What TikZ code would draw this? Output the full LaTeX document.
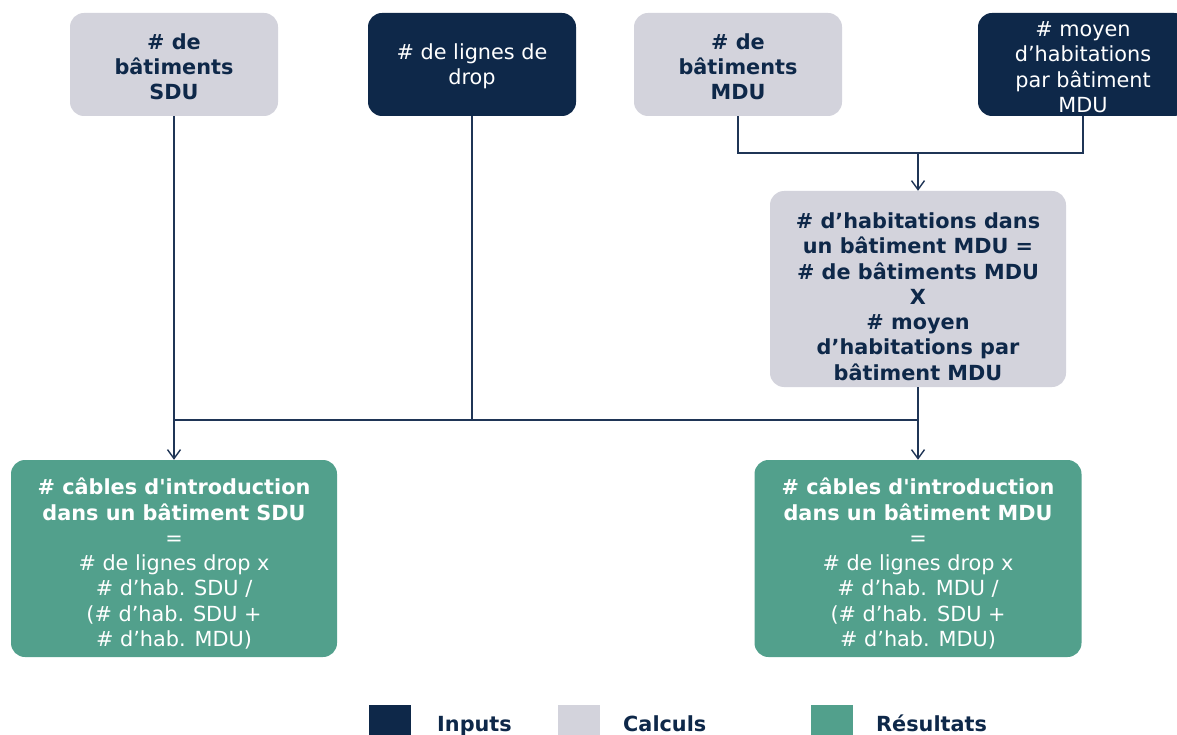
\documentclass[tikz,border=0pt]{standalone}
\usepackage{fontspec}
\setmainfont[Ligatures=TeXOff]{DejaVu Sans}
\usetikzlibrary{arrows.meta}
\definecolor{navy}{HTML}{0E2849}
\definecolor{lgrey}{HTML}{D3D3DC}
\definecolor{teal}{HTML}{52A08C}
\definecolor{linec}{HTML}{1F3556}
\newcommand{\topgap}[1]{\rule{0pt}{#1}}
\tikzset{
  box/.style={rounded corners=14pt, align=center, inner sep=0pt, font=\fontsize{20.8}{25.3}\selectfont},
  inbox/.style={box, fill=navy, text=white},
  calcbox/.style={box, fill=lgrey, text=navy, font=\fontsize{20.8}{25.3}\selectfont\bfseries},
  resbox/.style={box, fill=teal, text=white},
  conn/.style={draw=linec, line width=1.6pt},
  arr/.style={conn, -{Straight Barb[length=9pt,width=13pt,line width=1.4pt]}},
  legsq/.style={inner sep=0pt, minimum width=42pt, minimum height=42pt},
  leglab/.style={text=navy, font=\fontsize{20.8}{25}\selectfont\bfseries, anchor=base west, inner sep=0pt}
}
\begin{document}
\begin{tikzpicture}[x=1pt,y=-1pt]
\useasboundingbox (0,0) rectangle (1177,735);
% top row
\node[calcbox, minimum width=208pt, minimum height=103pt] (A) at (174,64.5) {\topgap{20pt}\# de\\bâtiments\\SDU};
\node[inbox, minimum width=208pt, minimum height=103pt] (B) at (472,64.5) {\topgap{20pt}\# de lignes de\\drop};
\node[calcbox, minimum width=208pt, minimum height=103pt] (C) at (738,64.5) {\topgap{20pt}\# de\\bâtiments\\MDU};
\node[inbox, minimum width=210pt, minimum height=103pt] (D) at (1083,64.5) {\topgap{20pt}\# moyen\\d’habitations\\par bâtiment\\MDU};
% calc box
\node[calcbox, minimum width=296pt, minimum height=196pt] (E) at (918,289) {\topgap{31pt}\# d’habitations dans\\un bâtiment MDU =\\\# de bâtiments MDU\\X\\\# moyen\\d’habitations par\\bâtiment MDU};
% results
\node[resbox, minimum width=326pt, minimum height=197pt] (F) at (174,558.5) {\topgap{27pt}\textbf{\# câbles d'introduction}\\\textbf{dans un bâtiment SDU}\\=\\\# de lignes drop x\\\# d’hab. SDU /\\(\# d’hab. SDU +\\\# d’hab. MDU)};
\node[resbox, minimum width=327pt, minimum height=197pt] (G) at (918,558.5) {\topgap{27pt}\textbf{\# câbles d'introduction}\\\textbf{dans un bâtiment MDU}\\=\\\# de lignes drop x\\\# d’hab. MDU /\\(\# d’hab. SDU +\\\# d’hab. MDU)};
% junction coordinates
\coordinate (m) at (918,153);
\coordinate (j1) at (174,420);
\coordinate (j2) at (918,420);
% connectors
\draw[conn] (C.south) |- (m) -| (D.south);
\draw[arr] (m) -- (E.north);
\draw[arr] (A.south) -- (F.north);
\draw[conn] (B.south) -- (B.south |- j1);
\draw[conn] (j1) -- (j2);
\draw[arr] (E.south) -- (E.south |- G.north);
% legend
\node[legsq, fill=navy] (L1) at (390,726) {};
\node[leglab] (T1) at (437,731) {Inputs};
\node[legsq, fill=lgrey] (L2) at (579,726) {};
\node[leglab] (T2) at (623,731) {Calculs};
\node[legsq, fill=teal] (L3) at (832,726) {};
\node[leglab] (T3) at (876,731) {Résultats};
\end{tikzpicture}
\end{document}
